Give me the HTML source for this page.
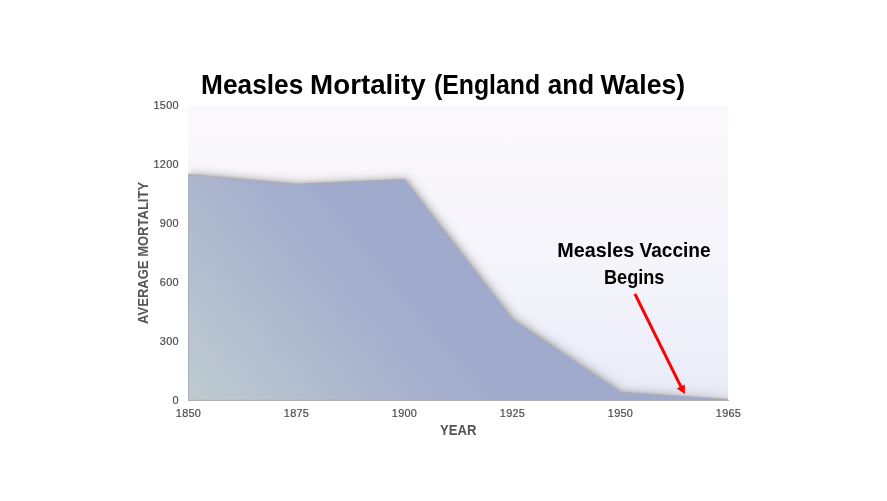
<!DOCTYPE html>
<html lang="en">
<head>
<meta charset="utf-8">
<title>Measles Mortality (England and Wales)</title>
<style>
html,body{margin:0;padding:0;background:#fff;}
body{width:887px;height:501px;overflow:hidden;}
svg{display:block;will-change:transform;}
.t{font-family:"Liberation Sans",Arial,sans-serif;}
</style>
</head>
<body>
<svg width="887" height="501" viewBox="0 0 887 501">
  <defs>
    <linearGradient id="bg" x1="0" y1="106" x2="0" y2="400" gradientUnits="userSpaceOnUse">
      <stop offset="0" stop-color="#faf8fc"/>
      <stop offset="0.5" stop-color="#f6f5fb"/>
      <stop offset="1" stop-color="#e8ebf7"/>
    </linearGradient>
    <linearGradient id="fillg" x1="188" y1="400" x2="379.5" y2="239" gradientUnits="userSpaceOnUse">
      <stop offset="0" stop-color="#bfcbd0"/>
      <stop offset="0.75" stop-color="#a6b0cd"/>
      <stop offset="1" stop-color="#a0aacd"/>
    </linearGradient>
    <filter id="sh" x="-5%" y="-10%" width="110%" height="120%">
      <feGaussianBlur stdDeviation="4"/>
    </filter>
    <filter id="sh2" x="-5%" y="-10%" width="110%" height="120%">
      <feGaussianBlur stdDeviation="1.6"/>
    </filter>
    <clipPath id="plot"><rect x="188" y="106" width="540" height="294"/></clipPath>
  </defs>
  <rect x="0" y="0" width="887" height="501" fill="#ffffff"/>
  <rect x="188" y="106" width="540" height="294.5" fill="url(#bg)"/>
  <g clip-path="url(#plot)">
    <path d="M188,174.3 L296.5,184 L404.5,179.3 L512.5,319.3 L620.5,392.2 L728.5,399.2 L728.5,401 L188,401 Z" fill="#707070" fill-opacity="0.38" filter="url(#sh)" transform="translate(3,-2.5)"/>
    <path d="M188,174.3 L296.5,184 L404.5,179.3 L512.5,319.3 L620.5,392.2 L728.5,399.2 L728.5,401 L188,401 Z" fill="#707070" fill-opacity="0.22" filter="url(#sh2)" transform="translate(1.5,-1.2)"/>
    <path d="M188,174.3 L296.5,184 L404.5,179.3 L512.5,319.3 L620.5,392.2 L728.5,399.2 L728.5,401 L188,401 Z" fill="url(#fillg)" stroke="#aeaca8" stroke-width="0.7"/>
  </g>
  <rect x="188" y="399.8" width="541" height="1.1" fill="#a9a9ae"/>
  <rect x="188" y="174.5" width="1" height="226.5" fill="#adaeba"/>

  <!-- title -->
  <text class="t" y="93.7" font-size="26.8" font-weight="bold" fill="#000"><tspan x="201.06" textLength="102.27" lengthAdjust="spacingAndGlyphs">Measles</tspan> <tspan x="310.11" textLength="115.55" lengthAdjust="spacingAndGlyphs">Mortality</tspan> <tspan x="433.94" textLength="106.2" lengthAdjust="spacingAndGlyphs">(England</tspan> <tspan x="547.81" textLength="46.26" lengthAdjust="spacingAndGlyphs">and</tspan> <tspan x="600.46" textLength="84.73" lengthAdjust="spacingAndGlyphs">Wales)</tspan></text>

  <!-- y ticks -->
  <g class="t" font-size="10.9" fill="#4c4c4c" stroke="#4c4c4c" stroke-width="0.2" letter-spacing="0.3" text-anchor="end">
    <text x="178.9" y="109.3">1500</text>
    <text x="178.9" y="168.1">1200</text>
    <text x="178.9" y="226.9">900</text>
    <text x="178.9" y="285.7">600</text>
    <text x="178.9" y="344.5">300</text>
    <text x="178.9" y="403.7">0</text>
  </g>
  <!-- x ticks -->
  <g class="t" font-size="10.9" fill="#4c4c4c" stroke="#4c4c4c" stroke-width="0.2" letter-spacing="0.3" text-anchor="middle">
    <text x="188.5" y="416.7">1850</text>
    <text x="296.5" y="416.7">1875</text>
    <text x="404.5" y="416.7">1900</text>
    <text x="512.5" y="416.7">1925</text>
    <text x="620.5" y="416.7">1950</text>
    <text x="728.5" y="416.7">1965</text>
  </g>
  <!-- axis titles -->
  <text class="t" x="440" y="434.8" font-size="14.2" font-weight="bold" fill="#555555" textLength="36.4" lengthAdjust="spacingAndGlyphs">YEAR</text>
  <text class="t" transform="translate(148.2,323.9) rotate(-90)" font-size="14.4" font-weight="bold" fill="#555555" textLength="142" lengthAdjust="spacingAndGlyphs">AVERAGE MORTALITY</text>

  <!-- annotation -->
  <text class="t" y="256.8" font-size="20.4" font-weight="bold" fill="#000"><tspan x="557.34" textLength="76.99" lengthAdjust="spacingAndGlyphs">Measles</tspan> <tspan x="639.48" textLength="71.19" lengthAdjust="spacingAndGlyphs">Vaccine</tspan></text>
  <text class="t" x="604" y="283.9" font-size="20.4" font-weight="bold" fill="#000" textLength="60.4" lengthAdjust="spacingAndGlyphs">Begins</text>

  <!-- arrow -->
  <line x1="634.9" y1="293.9" x2="681.5" y2="387.9" stroke="#ff0000" stroke-width="3"/>
  <polygon points="684.8,394.1 676.75,388.5 684.8,384.5" fill="#ff0000"/>
</svg>
</body>
</html>
